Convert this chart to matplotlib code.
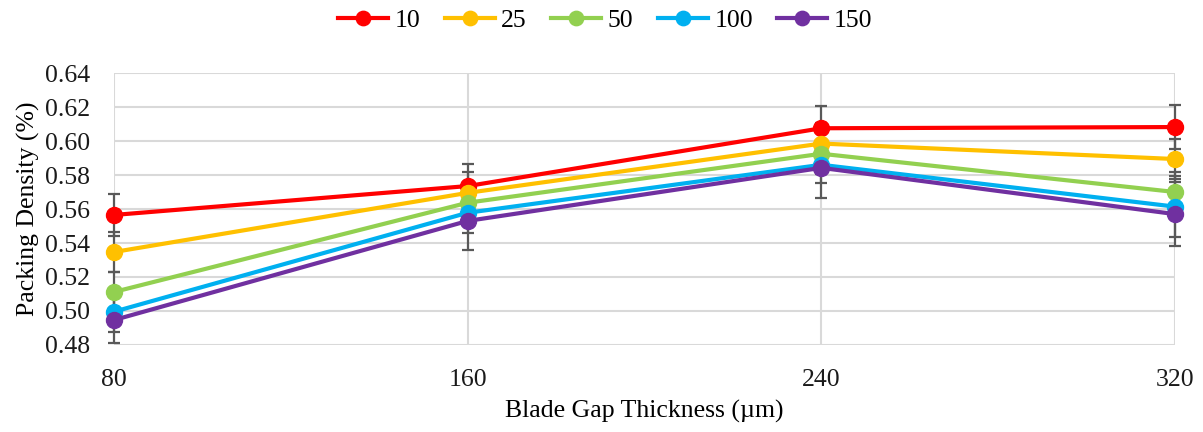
import matplotlib.pyplot as plt
import numpy as np

plt.rcParams['font.family'] = ['Liberation Serif', 'DejaVu Serif']

# 刮刀间隙厚度 (µm)
gap = [80, 160, 240, 320]
series_names = ['10', '25', '50', '100', '150']

# 各系列的堆积密度
pd_10 = [0.5565, 0.5735, 0.6075, 0.6082]
pd_25 = [0.5347, 0.5695, 0.5985, 0.5894]
pd_50 = [0.5112, 0.5637, 0.5925, 0.5700]
pd_100 = [0.4996, 0.5578, 0.5860, 0.5614]
pd_150 = [0.4947, 0.5530, 0.5842, 0.5570]

# 误差棒
err_10 = [0.0125, 0.0128, 0.0130, 0.0130]
err_25 = [0.0120, 0.0120, 0.0120, 0.0120]
err_50 = [0.0120, 0.0120, 0.0120, 0.0120]
err_100 = [0.0120, 0.0120, 0.0195, 0.0180]
err_150 = [0.0135, 0.0170, 0.0090, 0.0190]

values = [pd_10, pd_25, pd_50, pd_100, pd_150]
errors = [err_10, err_25, err_50, err_100, err_150]
colors = ['#FF0000', '#FFC000', '#92D050', '#00B0F0', '#7030A0']

fs = 18.5
fig = plt.figure(figsize=(12.03, 4.32), dpi=100)
ax = fig.add_axes([0.0948, 0.2014, 0.8819, 0.6296])

# 先画误差棒（灰色），再画折线
for v, e in zip(values, errors):
    ax.errorbar(gap, v, yerr=e, fmt='none', ecolor='#595959', elinewidth=1.6,
                capsize=4, capthick=1.6, zorder=2, clip_on=False)

for name, v, c in zip(series_names, values, colors):
    ax.plot(gap, v, color=c, lw=3, marker='o', markersize=11.5, label=name,
            zorder=3, clip_on=False)

ax.set_xlim(80, 320)
ax.set_ylim(0.48, 0.64)
ax.set_xticks(gap)
ax.set_yticks(np.arange(0.48, 0.6401, 0.02))
ax.yaxis.set_major_formatter(plt.FormatStrFormatter('%.2f'))
ax.grid(True, color='#D9D9D9', lw=1.5)
ax.set_axisbelow(True)
for s in ax.spines.values():
    s.set_visible(False)
ax.tick_params(length=0, labelsize=fs, colors='#1a1a1a')
ax.tick_params(axis='x', pad=17)
ax.tick_params(axis='y', pad=17)

ax.set_xlabel('Blade Gap Thickness (µm)', fontsize=fs, labelpad=7)
ax.set_ylabel('Packing Density (%)', fontsize=fs, labelpad=4)

fig.legend(loc='upper center', bbox_to_anchor=(0.503, 1.033), ncol=5, frameon=False,
           fontsize=fs, handlelength=1.95, columnspacing=0.95, handletextpad=0.25,
           markerscale=0.9)

fig.savefig('out.png', dpi=100)
